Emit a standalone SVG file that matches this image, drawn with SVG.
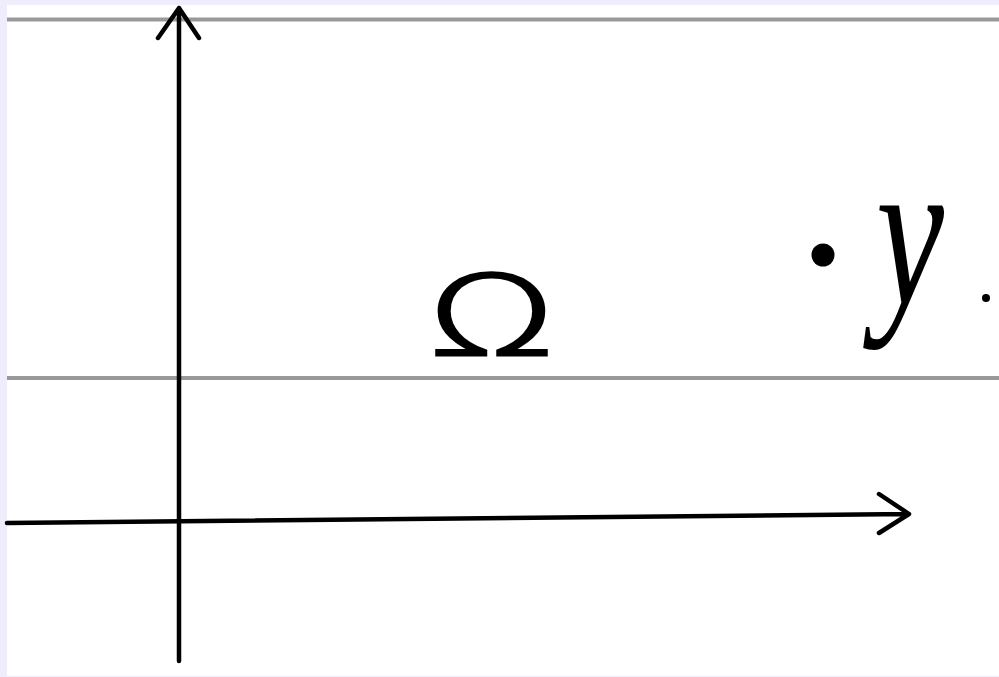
<svg xmlns="http://www.w3.org/2000/svg" width="999" height="677" viewBox="0 0 999 677">
<style>
.guide{stroke:#999999;stroke-width:4;fill:none}
.axis{stroke:#000;stroke-width:4.5;fill:none;stroke-linecap:round;stroke-linejoin:round}
.lbl{fill:#000}
</style>
<rect x="0" y="0" width="999" height="677" fill="#EFEDFB"/>
<rect x="7" y="5" width="992" height="671" fill="#FFFFFF"/>
<g id="guides">
<line class="guide" x1="7" y1="19.5" x2="999" y2="19.5"/>
<line class="guide" x1="7" y1="378" x2="999" y2="378"/>
</g>
<g id="connectors">
<path class="axis" d="M179 661 L179 8 M158 38 L179 8 L199 38"/>
<path class="axis" d="M7 523 L909 514 M879 494 L909 514 L879 533"/>
</g>
<g id="omega">
<text class="lbl" x="428" y="355" font-family="DejaVu Sans, sans-serif" font-weight="200" font-size="110" textLength="127" lengthAdjust="spacingAndGlyphs" stroke="#000" stroke-width="3">Ω</text>
</g>
<g id="point-y">
<circle cx="823" cy="255" r="11.5" fill="#000"/>
<text class="lbl" x="876" y="304" font-family="Liberation Serif, serif" font-style="italic" font-size="215" textLength="68" lengthAdjust="spacingAndGlyphs">y</text>
<circle cx="986" cy="298" r="4" fill="#000"/>
</g>
</svg>
